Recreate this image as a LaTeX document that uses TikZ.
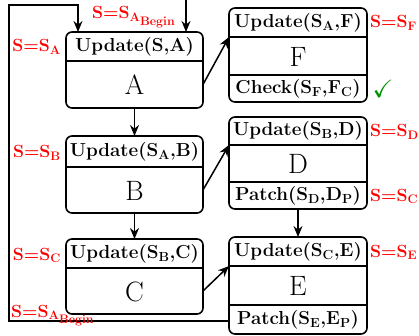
\RequirePackage{fix-cm}
\documentclass[tikz,border=0pt]{standalone}
\usepackage{amssymb}
\usetikzlibrary{arrows.meta}
\definecolor{chk}{RGB}{0,145,0}
\begin{document}
\begin{tikzpicture}[x=1pt,y=-1pt,
  box/.style={draw, line width=1.6pt, rounded corners=6pt, inner sep=0pt, minimum width=137pt},
  sect/.style={inner sep=0pt, font=\fontsize{18.8}{22}\selectfont\bfseries},
  big/.style={inner sep=0pt, font=\fontsize{28}{32}\selectfont},
  lab/.style={inner sep=0pt, text=red, font=\fontsize{17.6}{21}\selectfont\boldmath},
  arr/.style={line width=1.5pt, -{Stealth[length=11pt,width=9pt]}},
  div/.style={line width=1.3pt}]
\useasboundingbox (0,0) rectangle (419,336);

% ---- Box A
\node[box, minimum height=76pt] (A) at (134.5,70) {};
\draw[div] (66,61) -- (203,61);
\node[sect] (Ah) at (134.5,46.5) {Update(S,A)};
\node[big] (Al) at (134.5,85) {A};
\coordinate (Ae) at (203,84.5);
\coordinate (Abot) at (134.5,108);
\coordinate (Atopl) at (78,32);
\coordinate (Atopr) at (186,32);

% ---- Box B
\node[box, minimum height=77pt] (B) at (134.5,174.5) {};
\draw[div] (66,167) -- (203,167);
\node[sect] (Bh) at (134.5,151.5) {Update(S$_{\mathbf{A}}$,B)};
\node[big] (Bl) at (134.5,190.5) {B};
\coordinate (Be) at (203,190);
\coordinate (Btop) at (134.5,136);
\coordinate (Bbot) at (134.5,213);

% ---- Box C
\node[box, minimum height=75pt] (C) at (134.5,276.5) {};
\draw[div] (66,268) -- (203,268);
\node[sect] (Ch) at (134.5,253.5) {Update(S$_{\mathbf{B}}$,C)};
\node[big] (Cl) at (134.5,291.5) {C};
\coordinate (Ce) at (203,291);
\coordinate (Ctop) at (134.5,239);

% ---- Box F
\node[box, minimum width=138pt, minimum height=94pt] (F) at (298,55) {};
\draw[div] (229,37) -- (367,37);
\draw[div] (229,75) -- (367,75);
\node[sect] (Fh) at (298,22.5) {Update(S$_{\mathbf{A}}$,F)};
\node[big] (Fl) at (298,56.5) {F};
\node[sect] (Fc) at (298,88.5) {Check(S$_{\mathbf{F}}$,F$_{\mathbf{C}}$)};
\coordinate (Fw) at (229,37);

% ---- Box D
\node[box, minimum width=138pt, minimum height=92pt] (D) at (298,163) {};
\draw[div] (229,145) -- (367,145);
\draw[div] (229,182) -- (367,182);
\node[sect] (Dh) at (298,131) {Update(S$_{\mathbf{B}}$,D)};
\node[big] (Dl) at (298,164) {D};
\node[sect] (Dp) at (298,195.5) {Patch(S$_{\mathbf{D}}$,D$_{\mathbf{P}}$)};
\coordinate (Dw) at (229,145);
\coordinate (Dbot) at (298,209);

% ---- Box E
\node[box, minimum width=138pt, minimum height=97pt] (E) at (298,285.5) {};
\draw[div] (229,266) -- (367,266);
\draw[div] (229,305) -- (367,305);
\node[sect] (Eh) at (298,251.5) {Update(S$_{\mathbf{C}}$,E)};
\node[big] (El) at (298,286) {E};
\node[sect] (Ep) at (298,319.5) {Patch(S$_{\mathbf{E}}$,E$_{\mathbf{P}}$)};
\coordinate (Ew) at (229,266);
\coordinate (Etop) at (298,237);
\coordinate (Eloop) at (229,321);

% ---- connectors
\draw[arr] (Abot) -- (Btop);
\draw[arr] (Bbot) -- (Ctop);
\draw[arr] (Dbot) -- (Etop);
\draw[arr] (Ae) -- (Fw);
\draw[arr] (Be) -- (Dw);
\draw[arr] (Ce) -- (Ew);
\coordinate (lp1) at (9,321);
\coordinate (lp2) at (9,5);
\coordinate (lp3) at (78,5);
\draw[arr] (Eloop) -- (lp1) -- (lp2) -- (lp3) -- (Atopl);
\coordinate (topin) at (186,0);
\draw[arr] (topin) -- (Atopr);

% ---- labels
\node[lab, anchor=base west] (Ltop) at (92,19) {$\mathbf{S{=}S_{A_{\scriptstyle Begin}}}$};
\node[lab, anchor=base east] (LA) at (61,52) {$\mathbf{S{=}S_{A}}$};
\node[lab, anchor=base east] (LB) at (61,157.5) {$\mathbf{S{=}S_{B}}$};
\node[lab, anchor=base east] (LC) at (61,260) {$\mathbf{S{=}S_{C}}$};
\node[lab, anchor=base west] (Lbot) at (11,317) {$\mathbf{S{=}S_{A_{\scriptstyle Begin}}}$};
\node[lab, anchor=base west] (LF) at (370,28) {$\mathbf{S{=}S_{F}}$};
\node[lab, anchor=base west] (LD) at (370,136.5) {$\mathbf{S{=}S_{D}}$};
\node[lab, anchor=base west] (LC2) at (370,201) {$\mathbf{S{=}S_{C}}$};
\node[lab, anchor=base west] (LE) at (370,257) {$\mathbf{S{=}S_{E}}$};
\node[inner sep=0pt, text=chk, font=\fontsize{25}{30}\selectfont] (ok) at (383,89) {$\checkmark$};
\end{tikzpicture}
\end{document}
